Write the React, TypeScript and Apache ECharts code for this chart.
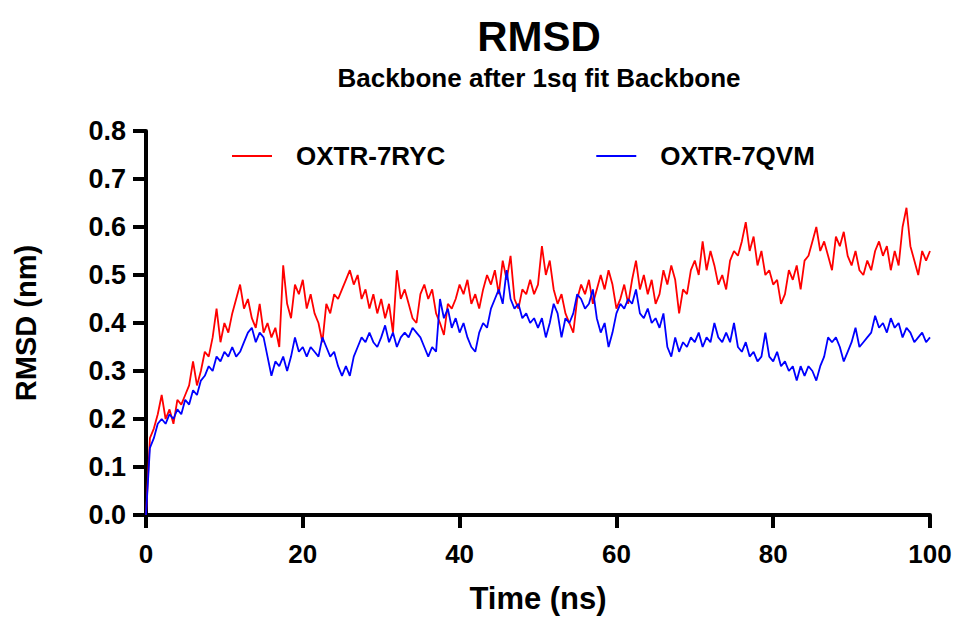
import React, { useEffect, useRef } from "react";
import * as echarts from "echarts";

const TITLE = "RMSD";
const SUBTITLE = "Backbone after 1sq fit Backbone";
const X_NAME = "Time (ns)";
const Y_NAME = "RMSD (nm)";
const SERIES_NAMES = ["OXTR-7RYC", "OXTR-7QVM"];
const TIME_STEP_NS = 0.5;

// RMSD (nm) sampled every 0.5 ns, t = 0 .. 100 ns
const RED_7RYC = [
  0.00, 0.16, 0.18, 0.21, 0.25, 0.20, 0.22, 0.19, 0.24, 0.23,
  0.25, 0.27, 0.32, 0.27, 0.30, 0.34, 0.33, 0.37, 0.43, 0.36,
  0.40, 0.38, 0.42, 0.45, 0.48, 0.43, 0.45, 0.41, 0.39, 0.44,
  0.38, 0.40, 0.37, 0.39, 0.35, 0.52, 0.44, 0.41, 0.48, 0.46,
  0.49, 0.43, 0.46, 0.42, 0.40, 0.36, 0.44, 0.42, 0.46, 0.45,
  0.47, 0.49, 0.51, 0.48, 0.50, 0.45, 0.47, 0.43, 0.46, 0.42,
  0.45, 0.41, 0.44, 0.38, 0.51, 0.45, 0.47, 0.44, 0.41, 0.40,
  0.46, 0.48, 0.45, 0.47, 0.42, 0.40, 0.375, 0.44, 0.43, 0.45,
  0.48, 0.46, 0.49, 0.44, 0.46, 0.43, 0.47, 0.50, 0.48, 0.51,
  0.46, 0.53, 0.49, 0.54, 0.45, 0.43, 0.47, 0.46, 0.49, 0.46,
  0.48, 0.56, 0.50, 0.53, 0.47, 0.44, 0.46, 0.42, 0.40, 0.38,
  0.45, 0.48, 0.46, 0.49, 0.44, 0.47, 0.50, 0.47, 0.51, 0.48,
  0.43, 0.45, 0.48, 0.44, 0.49, 0.53, 0.47, 0.50, 0.46, 0.49,
  0.44, 0.46, 0.51, 0.48, 0.52, 0.49, 0.42, 0.47, 0.46, 0.51,
  0.53, 0.50, 0.57, 0.51, 0.55, 0.52, 0.48, 0.50, 0.47, 0.53,
  0.55, 0.54, 0.57, 0.61, 0.55, 0.58, 0.52, 0.55, 0.50, 0.51,
  0.48, 0.49, 0.44, 0.46, 0.51, 0.49, 0.52, 0.47, 0.53, 0.54,
  0.57, 0.60, 0.55, 0.57, 0.54, 0.51, 0.58, 0.56, 0.59, 0.54,
  0.52, 0.55, 0.51, 0.50, 0.53, 0.51, 0.55, 0.57, 0.54, 0.56,
  0.51, 0.55, 0.52, 0.60, 0.64, 0.56, 0.53, 0.50, 0.55, 0.53,
  0.55,
];

const BLUE_7QVM = [
  0.00, 0.14, 0.16, 0.19, 0.20, 0.19, 0.21, 0.20, 0.22, 0.21,
  0.24, 0.23, 0.26, 0.25, 0.28, 0.29, 0.31, 0.30, 0.33, 0.32,
  0.34, 0.33, 0.35, 0.33, 0.34, 0.36, 0.38, 0.39, 0.36, 0.38,
  0.37, 0.33, 0.29, 0.32, 0.31, 0.33, 0.30, 0.33, 0.37, 0.34,
  0.35, 0.33, 0.35, 0.34, 0.33, 0.37, 0.35, 0.33, 0.34, 0.31,
  0.29, 0.31, 0.29, 0.33, 0.35, 0.37, 0.36, 0.38, 0.36, 0.35,
  0.37, 0.395, 0.36, 0.38, 0.35, 0.37, 0.38, 0.37, 0.39, 0.38,
  0.37, 0.35, 0.33, 0.35, 0.34, 0.45, 0.41, 0.43, 0.39, 0.41,
  0.38, 0.40, 0.37, 0.35, 0.34, 0.38, 0.40, 0.39, 0.43, 0.45,
  0.47, 0.44, 0.51, 0.45, 0.43, 0.44, 0.41, 0.42, 0.40, 0.41,
  0.39, 0.41, 0.37, 0.40, 0.44, 0.42, 0.37, 0.41, 0.40, 0.42,
  0.46, 0.45, 0.43, 0.44, 0.47, 0.41, 0.38, 0.40, 0.35, 0.38,
  0.42, 0.44, 0.43, 0.45, 0.44, 0.47, 0.42, 0.41, 0.43, 0.40,
  0.41, 0.39, 0.42, 0.35, 0.33, 0.37, 0.34, 0.36, 0.35, 0.37,
  0.36, 0.38, 0.35, 0.37, 0.36, 0.40, 0.37, 0.36, 0.38, 0.36,
  0.40, 0.35, 0.34, 0.36, 0.33, 0.34, 0.32, 0.33, 0.38, 0.33,
  0.32, 0.34, 0.31, 0.32, 0.30, 0.31, 0.28, 0.31, 0.29, 0.31,
  0.30, 0.28, 0.31, 0.33, 0.37, 0.36, 0.37, 0.35, 0.32, 0.34,
  0.36, 0.39, 0.35, 0.36, 0.37, 0.38, 0.415, 0.39, 0.40, 0.38,
  0.41, 0.39, 0.40, 0.37, 0.39, 0.38, 0.36, 0.37, 0.38, 0.36,
  0.37,
];

const FONT = "'Liberation Sans', Arial, Helvetica, sans-serif";

function toPairs(values: number[]) {
  return values.map((v, i) => [i * TIME_STEP_NS, v]);
}

export default function App() {
  const ref = useRef<HTMLDivElement>(null);

  useEffect(() => {
    if (!ref.current) return;
    const chart = echarts.init(ref.current, null, { renderer: "svg" });
    chart.setOption({
      animation: false,
      backgroundColor: "#ffffff",
      title: {
        text: TITLE,
        subtext: SUBTITLE,
        left: 534,
        top: 10,
        textAlign: "center",
        itemGap: 8,
        textStyle: { fontFamily: FONT, fontWeight: "bold", fontSize: 42, color: "#000" },
        subtextStyle: { fontFamily: FONT, fontWeight: "bold", fontSize: 26, color: "#000" },
      },
      legend: {
        top: 143,
        left: 232,
        padding: 0,
        itemWidth: 40,
        itemHeight: 2,
        itemGap: 151,
        icon: "rect",
        data: SERIES_NAMES,
        textStyle: {
          fontFamily: FONT,
          fontWeight: "bold",
          fontSize: 26,
          color: "#000",
          padding: [0, 0, 0, 19],
        },
      },
      grid: { left: 146, right: 26, top: 131, bottom: 103, containLabel: false },
      xAxis: {
        type: "value",
        min: 0,
        max: 100,
        interval: 20,
        name: X_NAME,
        nameLocation: "middle",
        nameGap: 68,
        nameTextStyle: { fontFamily: FONT, fontWeight: "bold", fontSize: 31, color: "#000" },
        axisLine: { show: true, lineStyle: { color: "#000", width: 4 } },
        axisTick: { show: true, length: 13, lineStyle: { color: "#000", width: 4 } },
        axisLabel: { margin: 26, fontFamily: FONT, fontWeight: "bold", fontSize: 26, color: "#000" },
        splitLine: { show: false },
      },
      yAxis: {
        type: "value",
        min: 0,
        max: 0.8,
        interval: 0.1,
        name: Y_NAME,
        nameLocation: "middle",
        nameGap: 106,
        nameRotate: 90,
        nameTextStyle: { fontFamily: FONT, fontWeight: "bold", fontSize: 29, color: "#000" },
        axisLine: { show: true, lineStyle: { color: "#000", width: 4 } },
        axisTick: { show: true, length: 13, lineStyle: { color: "#000", width: 4 } },
        axisLabel: {
          margin: 20,
          fontFamily: FONT,
          fontWeight: "bold",
          fontSize: 27,
          color: "#000",
          formatter: (v: number) => v.toFixed(1),
        },
        splitLine: { show: false },
      },
      series: [
        {
          name: SERIES_NAMES[0],
          type: "line",
          data: toPairs(RED_7RYC),
          showSymbol: false,
          symbol: "none",
          lineStyle: { color: "#ff0000", width: 1.8 },
          itemStyle: { color: "#ff0000" },
        },
        {
          name: SERIES_NAMES[1],
          type: "line",
          data: toPairs(BLUE_7QVM),
          showSymbol: false,
          symbol: "none",
          lineStyle: { color: "#0000ff", width: 1.8 },
          itemStyle: { color: "#0000ff" },
        },
      ],
    });
    return () => chart.dispose();
  }, []);

  return (
    <div
      ref={ref}
      style={{ position: "absolute", left: 0, top: 0, width: 956, height: 619, background: "#fff" }}
    />
  );
}
